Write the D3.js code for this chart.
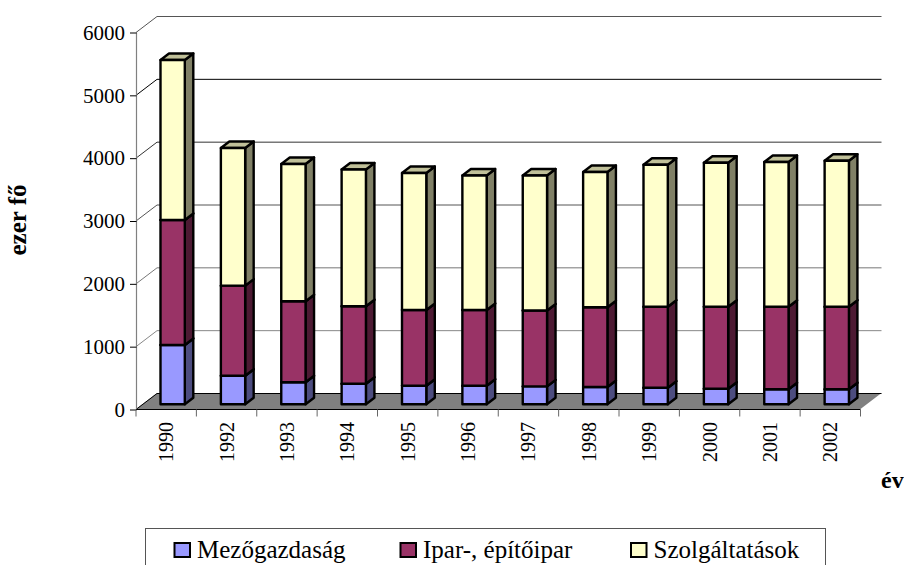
<!DOCTYPE html>
<html><head><meta charset="utf-8">
<script src="https://cdn.jsdelivr.net/npm/d3@7/dist/d3.min.js"></script>
<style>html,body{margin:0;padding:0;background:#fff;overflow:hidden}svg{display:block}text{font-family:"Liberation Serif",serif;fill:#000}</style>
</head><body><svg id="c" width="904" height="565"></svg>
<script>
const years=["1990","1992","1993","1994","1995","1996","1997","1998","1999","2000","2001","2002"];
const seriesNames=["Mezőgazdaság","Ipar-, építőipar","Szolgáltatások"];
const agriculture=[944,455,350,328,296,296,286,275,264,248,239,239];
const industry=[1989,1433,1289,1232,1205,1205,1207,1269,1289,1305,1314,1314];
const services=[2547,2191,2186,2177,2180,2141,2149,2153,2260,2292,2303,2324];
const yTicks=[0,1000,2000,3000,4000,5000,6000];
const gridColors=["#000","#888","#777","#555","#333","#000","#555"];
const fills=["#9999FF","#993366","#FFFFCC"];
const sides=["#4D4D80","#4D1A33","#808066"];
const tops=["#7373BF","#732650","#C0C099"];

const svg=d3.select("#c");
const x=d3.scaleBand().domain(years).range([136,860.5]);
const y=d3.scaleLinear().domain([0,6000]).range([409,32]);
const wall={dx:21,dy:-16}, depth={dx:8.5,dy:-6.5}, inset={dx:3,dy:-4.7};
const barW=24.3;

// floor
svg.append("path").attr("fill","#808080").attr("stroke","none")
 .attr("d",`M136,${y(0)}L${136+wall.dx},${y(0)+wall.dy}L${860.5+wall.dx},${y(0)+wall.dy}L860.5,${y(0)}Z`);

// back wall gridlines
const grid=svg.append("g");
yTicks.forEach((t,i)=>{
  grid.append("path").attr("fill","none").attr("stroke",gridColors[i]).attr("stroke-width",1)
   .attr("d",`M${x.range()[0]},${y(t)+.5}L${x.range()[0]+wall.dx},${y(t)+wall.dy+.5}L${x.range()[1]+wall.dx},${y(t)+wall.dy+.5}`);
});

// axes
const yAxis=d3.axisLeft(y).tickValues(yTicks).tickSize(6.5).tickPadding(5).tickFormat(d3.format("d"));
const gy=svg.append("g").attr("transform","translate(136.5,0.5)").call(yAxis);
gy.select(".domain").attr("stroke","#808080").attr("stroke-width",1.2).attr("d",`M0,${y(6000)}V${y(0)}`);
gy.selectAll("line").attr("stroke","#000");
gy.selectAll("text").attr("font-size",21).attr("font-family","Liberation Serif");

const bottom=svg.append("g").attr("transform",`translate(0,${y(0)+.5})`);
bottom.append("path").attr("stroke","#000").attr("d","M136,0H860.5");
d3.range(13).forEach(i=>{
  const px=136+i*x.step();
  bottom.append("line").attr("x1",px).attr("x2",px).attr("y1",0).attr("y2",7).attr("stroke","#666");
});
years.forEach(yr=>{
  const cx=x(yr)+x.bandwidth()/2;
  svg.append("text").attr("transform",`translate(${cx+7},422) rotate(-90)`)
    .attr("text-anchor","end").attr("font-size",20).text(yr);
});

// stacked 3D bars
const rows=years.map((yr,i)=>({year:yr,a:agriculture[i],b:industry[i],c:services[i]}));
const stack=d3.stack().keys(["a","b","c"])(rows);
const bars=svg.append("g").attr("stroke","#000").attr("stroke-width",2.4).attr("stroke-linejoin","round");
years.forEach((yr,i)=>{
  const x0=x(yr)+24.5, x1=x0+barW;
  stack.forEach((s,k)=>{
    const yb=y(s[i][0])+inset.dy, yt=y(s[i][1])+inset.dy;
    const g=bars.append("g");
    g.append("path").attr("fill",sides[k]).attr("d",`M${x1},${yb}L${x1+depth.dx},${yb+depth.dy}L${x1+depth.dx},${yt+depth.dy}L${x1},${yt}Z`);
    g.append("path").attr("fill",tops[k]).attr("d",`M${x0},${yt}L${x0+depth.dx},${yt+depth.dy}L${x1+depth.dx},${yt+depth.dy}L${x1},${yt}Z`);
    g.append("rect").attr("x",x0).attr("y",yt).attr("width",barW).attr("height",yb-yt).attr("fill",fills[k]);
  });
});

// axis titles
svg.append("text").attr("transform","translate(26,220) rotate(-90)").attr("text-anchor","middle")
  .attr("font-size",25).attr("font-weight","bold").text("ezer fő");
svg.append("text").attr("x",881).attr("y",488).attr("font-size",24).attr("font-weight","bold").text("év");

// legend
svg.append("rect").attr("x",145.5).attr("y",528.5).attr("width",680).attr("height",60).attr("fill","#fff").attr("stroke","#555");
const legendX=d3.scaleOrdinal().domain(seriesNames).range([174,400,630.5]);
seriesNames.forEach((n,k)=>{
  svg.append("rect").attr("x",legendX(n)+.5).attr("y",543).attr("width",15.5).attr("height",14)
    .attr("fill",fills[k]).attr("stroke","#000").attr("stroke-width",2);
  svg.append("text").attr("x",legendX(n)+23).attr("y",558).attr("font-size",25).text(n);
});
</script></body></html>
